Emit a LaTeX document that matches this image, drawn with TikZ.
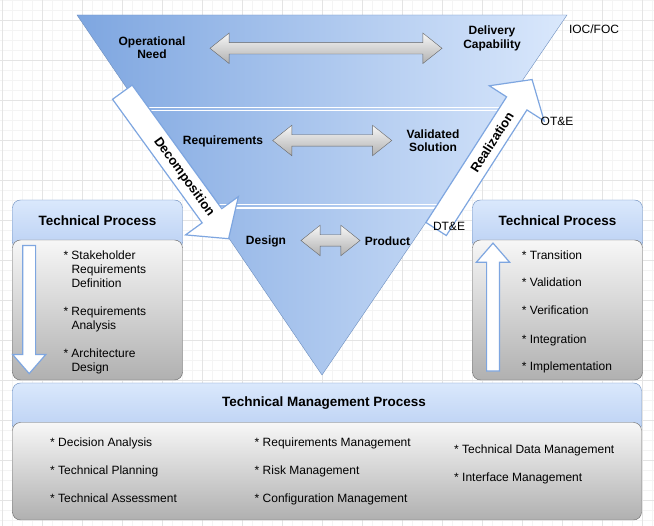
\documentclass[tikz,border=0pt]{standalone}
\usepackage{fontspec}
\setmainfont{Liberation Sans}
\usetikzlibrary{shapes.arrows,calc}

\definecolor{vdark}{HTML}{7EA6E0}
\definecolor{vlight}{HTML}{DAE8FC}
\definecolor{vline}{HTML}{6C8EBF}
\definecolor{hdrbot}{HTML}{BAD0F3}
\definecolor{boxtop}{HTML}{F7F7F7}
\definecolor{boxbot}{HTML}{B0B0B0}
\definecolor{boxline}{HTML}{666666}
\definecolor{gridminor}{HTML}{F4F4F4}
\definecolor{gridmajor}{HTML}{E4E4E4}

\begin{document}
\begin{tikzpicture}[x=1pt,y=-1pt,
  stage/.style={font=\fontsize{12}{13.5}\selectfont\bfseries, align=center, inner sep=0pt},
  note/.style={font=\fontsize{12}{14}\selectfont, inner sep=0pt},
  item/.style={font=\fontsize{12}{14}\selectfont, inner sep=0pt, anchor=west, text height=8.5pt, text depth=0pt},
  itemblock/.style={font=\fontsize{12}{14}\selectfont, inner sep=0pt, anchor=north west, align=left},
  title/.style={font=\fontsize{13.5}{16}\selectfont\bfseries, inner sep=0pt},
  arrowtext/.style={font=\fontsize{13}{15}\selectfont\bfseries, inner sep=0pt},
  hdrbox/.style={draw=vline, top color=vlight, bottom color=hdrbot, rounded corners=8pt},
  bodybox/.style={draw=boxline, top color=boxtop, bottom color=boxbot, rounded corners=8pt},
  grayarrow/.style={double arrow, draw=boxline, top color=boxtop, bottom color=boxbot, inner sep=0pt, inner ysep=5.5pt, double arrow head extend=9.5pt, double arrow tip angle=77, minimum height=#1},
  bigarrow/.style={single arrow, draw=vdark, fill=white, line width=1.2pt, inner sep=0pt, inner ysep=11.5pt, single arrow head extend=20.5pt, single arrow tip angle=98, anchor=tail},
  sidearrow/.style={single arrow, draw=vdark, fill=white, line width=1.2pt, inner sep=0pt, inner ysep=5.8pt, single arrow head extend=10.2pt, single arrow tip angle=82, minimum height=128pt, anchor=tail}
]

\useasboundingbox (0,0) rectangle (654,526);
\fill[white] (0,0) rectangle (654,526);

% background grid
\draw[gridminor, line width=0.6pt, step=10pt, xshift=2.5pt] (-10,526) grid (660,0);
\draw[gridmajor, line width=0.6pt, step=40pt, shift={(2.5,20)}] (-40,520) grid (680,-40);

% V
\coordinate (vtl) at (77,15);
\coordinate (vtr) at (567,15);
\coordinate (vbot) at (322,375);
\draw[vline, left color=vdark, right color=vlight] (vtl) -- (vtr) -- (vbot) -- cycle;

\begin{scope}
\clip (vtl) -- (vtr) -- (vbot) -- cycle;
\draw[white, line width=1.2pt] (60,107.3) -- (600,107.3) (60,110.8) -- (600,110.8);
\draw[white, line width=1.2pt] (60,204.5) -- (600,204.5) (60,208) -- (600,208);
\end{scope}

\node[grayarrow=232pt] (needarrow) at (326,48.3) {};
\node[grayarrow=119pt] (reqarrow) at (332.2,140.5) {};
\node[grayarrow=59pt] (designarrow) at (330.5,240.5) {};

\node[stage] (opneed) at (152,47.5) {Operational\\Need};
\node[stage] (delcap) at (492,38.5) {Delivery\\Capability};
\node[stage] (reqs) at (223,141) {Requirements};
\node[stage] (valsol) at (433,140.7) {Validated\\Solution};
\node[stage] (design) at (266,241) {Design};
\node[stage] (product) at (387.5,241) {Product};

% left panel
\draw[hdrbox] (12.5,200) rectangle (182.5,250);
\draw[bodybox] (12.5,240) rectangle (182.5,380);
\node[title] (lefttitle) at (97.5,221) {Technical Process};
\node[sidearrow, rotate=-90] (downarrow) at (29.2,245) {};
\node[itemblock] (stake) at (63.3,250.7) {* Stakeholder\\\phantom{* }Requirements\\\phantom{* }Definition};
\node[itemblock] (reqana) at (63.3,306.7) {* Requirements\\\phantom{* }Analysis};
\node[itemblock] (archdes) at (63.3,348.3) {* Architecture\\\phantom{* }Design};

% right panel
\draw[hdrbox] (472.5,200) rectangle (642.5,250);
\draw[bodybox] (472.5,240) rectangle (642.5,380);
\node[title] (righttitle) at (557.5,221) {Technical Process};
\node[sidearrow, rotate=90] (uparrow) at (493,371.7) {};
\node[item] (trans) at (521.7,255) {* Transition};
\node[item] (valid) at (521.7,282.7) {* Validation};
\node[item] (verif) at (521.7,310.7) {* Verification};
\node[item] (integ) at (521.7,339) {* Integration};
\node[item] (implem) at (521.7,366.7) {* Implementation};

% bottom panel
\draw[hdrbox] (12.5,383) rectangle (641.5,433);
\draw[bodybox] (12.5,422.5) rectangle (641.5,520);
\node[title] (mgmttitle) at (324,403.3) {Technical Management Process};
\node[item] (decana) at (50,442.5) {* Decision Analysis};
\node[item] (techplan) at (50,470.5) {* Technical Planning};
\node[item] (techass) at (50,498.5) {* Technical Assessment};
\node[item] (reqmgmt) at (254.5,442.5) {* Requirements Management};
\node[item] (riskmgmt) at (254.5,470.5) {* Risk Management};
\node[item] (confmgmt) at (254.5,498.5) {* Configuration Management};
\node[item] (datamgmt) at (454,449) {* Technical Data Management};
\node[item] (intmgmt) at (454,477) {* Interface Management};

% decomposition / realization
\node[bigarrow, rotate=-54.05, minimum height=181pt] (decomp) at (122,91.7) {};
\node[arrowtext, rotate=-54.05] (decomptext) at ($(decomp.tail)!0.578!(decomp.tip)$) {Decomposition};
\node[bigarrow, rotate=57.3, minimum height=177.6pt] (realiz) at (435.8,229.5) {};
\node[arrowtext, rotate=57.3] (realiztext) at ($(realiz.tail)!0.58!(realiz.tip)$) {Realization};

\node[note] (iocfoc) at (594,29.5) {IOC/FOC};
\node[note] (ote) at (557,121) {OT\&E};
\node[note] (dte) at (449,226.5) {DT\&E};

\end{tikzpicture}
\end{document}
